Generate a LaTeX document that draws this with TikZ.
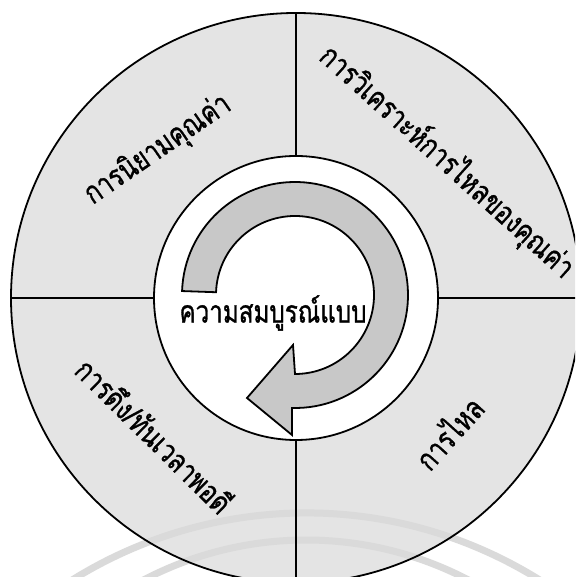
\documentclass[tikz,border=0pt]{standalone}
\usepackage{fontspec}
\usepackage{xcolor}
\usepackage{tikz}
\newfontfamily\thaifont[Script=Thai, FakeStretch=0.78, FakeBold=1]{Loma}
\definecolor{DotGray}{HTML}{E4E4E4}
\definecolor{ArrowGray}{HTML}{C8C8C8}
\definecolor{MarkGray}{HTML}{DADADA}

\tikzset{
  ringline/.style={line width=1.8pt},
  steplabel/.style={font=\thaifont\fontsize{31}{33}\selectfont, inner sep=0pt},
  markarc/.style={draw=MarkGray, line width=7pt}
}

\begin{document}
\begin{tikzpicture}[x=1pt,y=1pt]
  \useasboundingbox (0,0) rectangle (575,577);
  \clip (0,0) rectangle (575,577);
  \coordinate (c) at (296,279);
  \coordinate (ac) at (295,282);
  \fill[DotGray] (c) circle[radius=285];
  \draw[markarc] (306,-377) ++(150:441) arc[start angle=150, end angle=30, radius=441];
  \draw[markarc] (306,-313) ++(140:350) arc[start angle=140, end angle=40, radius=350];
  \draw[ringline] (c) circle[radius=285];
  \draw[ringline, fill=white] (c) circle[radius=142];
  \foreach \a in {0,90,180,270}
    \draw[ringline] ([shift={(\a:142)}]c) -- ([shift={(\a:285)}]c);
  \draw[ringline, fill=ArrowGray, line join=miter]
    ([shift={(178:113)}]ac) arc[start angle=178, end angle=-91.5, radius=113]
    -- ([shift={(-3,-140)}]ac) -- ([shift={(-48,-103)}]ac)
    -- ([shift={(-2,-50)}]ac) -- ([shift={(-90:79)}]ac)
    arc[start angle=-90, end angle=178, radius=79] -- cycle;
  \node[steplabel] (perfect) at (273,264) {ความสมบูรณ์แบบ};
  \node[steplabel, rotate=34.5] (value) at (158,427) {การนิยามคุณค่า};
  \node[steplabel, rotate=-42] (stream) at (447,415) {การวิเคราะห์การไหลของคุณค่า};
  \node[steplabel, rotate=48] (flow) at (448,145) {การไหล};
  \node[steplabel, rotate=-44.6] (pull) at (155,142) {การดึง/ทันเวลาพอดี};
\end{tikzpicture}
\end{document}
